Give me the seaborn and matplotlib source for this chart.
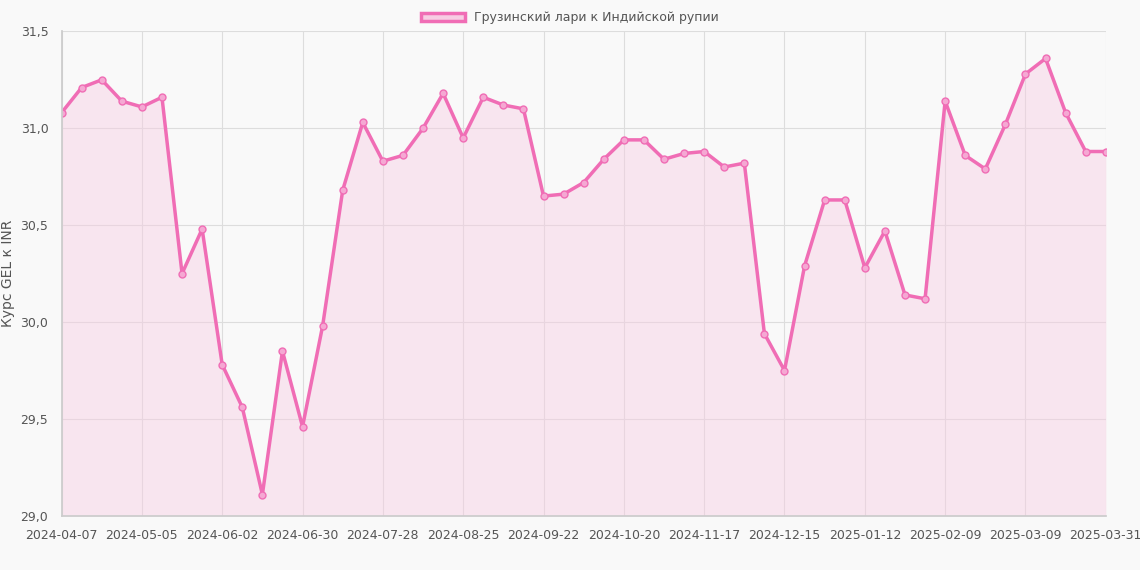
import numpy as np
import pandas as pd
import matplotlib
matplotlib.use('Agg')
import matplotlib.pyplot as plt
import seaborn as sns
from matplotlib.patches import Patch

# weekly GEL -> INR rate
rates = [31.08, 31.21, 31.25, 31.14, 31.11, 31.16, 30.25, 30.48, 29.78, 29.56,
         29.11, 29.85, 29.46, 29.98, 30.68, 31.03, 30.83, 30.86, 31.00, 31.18,
         30.95, 31.16, 31.12, 31.10, 30.65, 30.66, 30.72, 30.84, 30.94, 30.94,
         30.84, 30.87, 30.88, 30.80, 30.82, 29.94, 29.75, 30.29, 30.63, 30.63,
         30.28, 30.47, 30.14, 30.12, 31.14, 30.86, 30.79, 31.02, 31.28, 31.36,
         31.08, 30.88, 30.88]
dates = [d.strftime('%Y-%m-%d') for d in pd.date_range('2024-04-07', periods=52, freq='7D')]
dates.append('2025-03-31')

line_color = '#f06db5'
bg = '#f9f9f9'

sns.set_theme(style='whitegrid')
plt.rcParams['font.family'] = ['DejaVu Sans']

fig, ax = plt.subplots(figsize=(11.4, 5.7), dpi=100)
fig.patch.set_facecolor(bg)
ax.set_facecolor(bg)

df = pd.DataFrame({'i': range(len(rates)), 'rate': rates})
sns.lineplot(data=df, x='i', y='rate', ax=ax, color=line_color, lw=2.5,
             marker='o', markersize=5, markerfacecolor='#f5a8d3',
             markeredgecolor=line_color, markeredgewidth=1)
ax.fill_between(df['i'], df['rate'], 29.0, color='#f7cde3', alpha=0.45, lw=0)

ax.set_xlim(0, len(rates) - 1)
ax.set_ylim(29.0, 31.5)
ticks = list(range(0, len(rates) - 1, 4)) + [len(rates) - 1]
ax.set_xticks(ticks)
ax.set_xticklabels([dates[t] for t in ticks], fontsize=9, color='#555555')
yt = np.arange(29.0, 31.51, 0.5)
ax.set_yticks(yt)
ax.set_yticklabels([f'{v:.1f}'.replace('.', ',') for v in yt], fontsize=9, color='#555555')
ax.set_xlabel('')
ax.set_ylabel('Курс GEL к INR', fontsize=10, color='#555555')
ax.grid(True, color='#dddddd', lw=0.8)
for s in ax.spines.values():
    s.set_visible(False)
ax.spines['left'].set_visible(True)
ax.spines['bottom'].set_visible(True)
ax.spines['left'].set_color('#cccccc')
ax.spines['bottom'].set_color('#cccccc')

handle = Patch(facecolor='#f7cde3', edgecolor=line_color, lw=2.5,
               label='Грузинский лари к Индийской рупии')
fig.legend(handles=[handle], loc='upper center', bbox_to_anchor=(0.5, 1.0),
           frameon=False, fontsize=9, handlelength=3.5, labelcolor='#555555')

plt.subplots_adjust(left=0.054, right=0.97, top=0.945, bottom=0.095)
plt.savefig('out.png', dpi=100, facecolor=bg)
